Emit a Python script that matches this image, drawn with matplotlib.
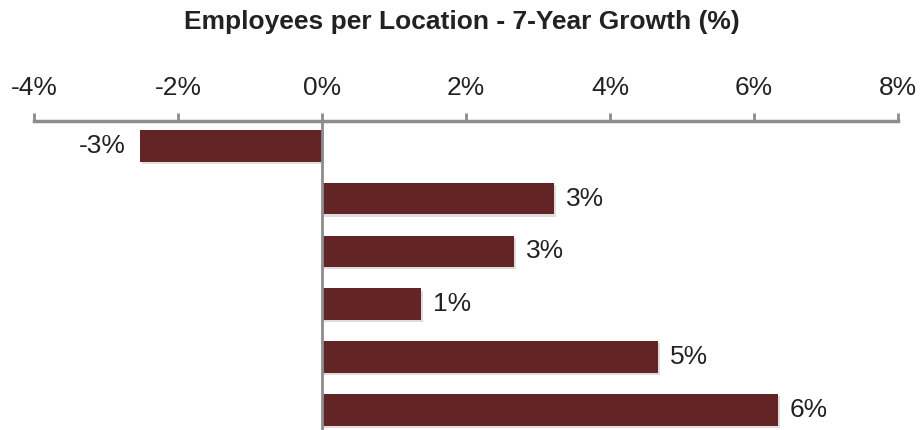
import matplotlib.pyplot as plt
import matplotlib.patheffects as pe
from matplotlib.ticker import FuncFormatter

plt.rcParams['font.family'] = ['Liberation Sans', 'DejaVu Sans']

# growth values in percent, top to bottom
growth = [-2.53, 3.22, 2.67, 1.38, 4.67, 6.33]
ticks = [-4, -2, 0, 2, 4, 6, 8]
bar_color = '#632426'
axis_gray = '#8c8c8c'

fig = plt.figure(figsize=(9.24, 4.3), dpi=100)
ax = fig.add_axes([34 / 924, 0, 864 / 924, 1 - 121 / 430])

pos = list(range(len(growth)))
bars = ax.barh(pos, growth, height=0.6, color=bar_color, zorder=2)
for b in bars:
    b.set_path_effects([pe.SimplePatchShadow(offset=(1.5, -1.5), shadow_rgbFace='#aaaaaa', alpha=0.4), pe.Normal()])

ax.set_xlim(-4, 8)
ax.set_ylim(5.38, -0.47)
ax.set_xticks(ticks)
ax.xaxis.set_major_formatter(FuncFormatter(lambda v, p: f'{v:.0f}%'))
ax.xaxis.tick_top()
ax.tick_params(axis='x', direction='out', length=6, width=2, color=axis_gray,
               labelsize=19, pad=9, labelcolor='#222222')
ax.set_yticks([])
for s in ['bottom', 'left', 'right']:
    ax.spines[s].set_visible(False)
ax.spines['top'].set_color(axis_gray)
ax.spines['top'].set_linewidth(2.5)
ax.axvline(0, color=axis_gray, lw=2, zorder=3)

for y, v in zip(pos, growth):
    lbl = f'{round(v):.0f}%'
    if v < 0:
        ax.annotate(lbl, (v, y), xytext=(-14, 0), textcoords='offset pixels',
                    ha='right', va='center', fontsize=19, color='#222222')
    else:
        ax.annotate(lbl, (v, y), xytext=(12, 0), textcoords='offset pixels',
                    ha='left', va='center', fontsize=19, color='#222222')

fig.text(0.5, 1 - 22 / 430, 'Employees per Location - 7-Year Growth (%)',
         ha='center', va='center', fontsize=19, fontweight='bold', color='#222222')

fig.savefig('out.png', dpi=100)
